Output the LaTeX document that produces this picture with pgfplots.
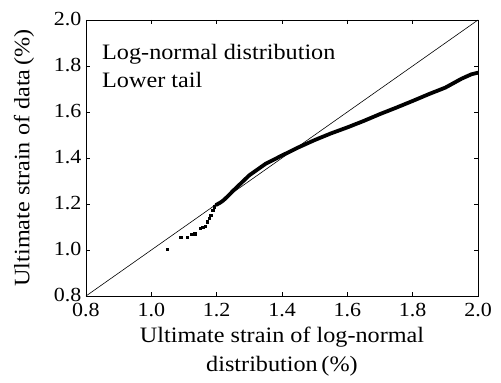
\documentclass[border=0pt]{standalone}
\usepackage{pgfplots}
\pgfplotsset{compat=1.18}
\usepackage{fontspec}
\setmainfont{Liberation Serif}[FakeStretch=1.1]
\begin{document}
\begin{tikzpicture}
\begin{axis}[
  scale only axis,
  width=392pt, height=276pt,
  xmin=0.8, xmax=2.0, ymin=0.8, ymax=2.0,
  xtick={0.8,1.0,...,2.0}, ytick={0.8,1.0,...,2.0},
  xticklabel style={/pgf/number format/fixed,/pgf/number format/fixed zerofill,/pgf/number format/precision=1},
  yticklabel style={/pgf/number format/fixed,/pgf/number format/fixed zerofill,/pgf/number format/precision=1},
  /pgf/number format/assume math mode=true,
  tick align=inside, major tick length=4pt,
  tick style={black, line width=0.6pt},
  axis line style={line width=0.8pt},
  ticklabel style={font=\fontsize{20}{22}\selectfont},
  xticklabel style={yshift=-6pt, inner ysep=1pt},
  yticklabel style={xshift=-1pt, yshift=1pt},
  xlabel={Ultimate strain of log-normal\\distribution\,(\%)},
  xlabel style={font=\fontsize{22}{29}\selectfont, align=center, at={(axis description cs:0.5,0)}, anchor=north, yshift=-30pt, inner ysep=1pt},
  ylabel={Ultimate strain of data\,(\%)},
  ylabel style={font=\fontsize{22}{25}\selectfont, at={(axis description cs:-0.158,0.5)}, anchor=center},
  clip=true,
]
\addplot[black, line width=0.6pt] coordinates {(0.8,0.8) (2.0,2.0)};
\addplot[only marks, mark=square*, mark size=1.1pt, black] coordinates {
(1.049,1.003) (1.090,1.057) (1.110,1.057) (1.122,1.068) (1.133,1.071)
(1.149,1.094) (1.157,1.100) (1.164,1.104) (1.171,1.123) (1.177,1.138)
(1.182,1.152) (1.188,1.174) (1.192,1.188)
};
\addplot[black, line width=3.8pt, line join=round, line cap=round] coordinates {
(1.198,1.196) (1.21,1.205) (1.22,1.215) (1.235,1.235) (1.25,1.257)
(1.30,1.325) (1.35,1.375) (1.40,1.411) (1.45,1.446) (1.50,1.478)
(1.55,1.507) (1.60,1.533) (1.65,1.561) (1.70,1.591) (1.75,1.619)
(1.80,1.648) (1.85,1.678) (1.90,1.706) (1.95,1.745) (1.98,1.764) (2.00,1.771)
};
\node[anchor=base west, font=\fontsize{22}{25}\selectfont, inner sep=0pt] at (axis cs:0.849,1.829) {Log-normal distribution};
\node[anchor=base west, font=\fontsize{22}{25}\selectfont, inner sep=0pt] at (axis cs:0.849,1.706) {Lower tail};
\end{axis}
\pgfresetboundingbox
\path (-86pt,-87pt) rectangle (415pt,296pt);
\end{tikzpicture}
\end{document}
